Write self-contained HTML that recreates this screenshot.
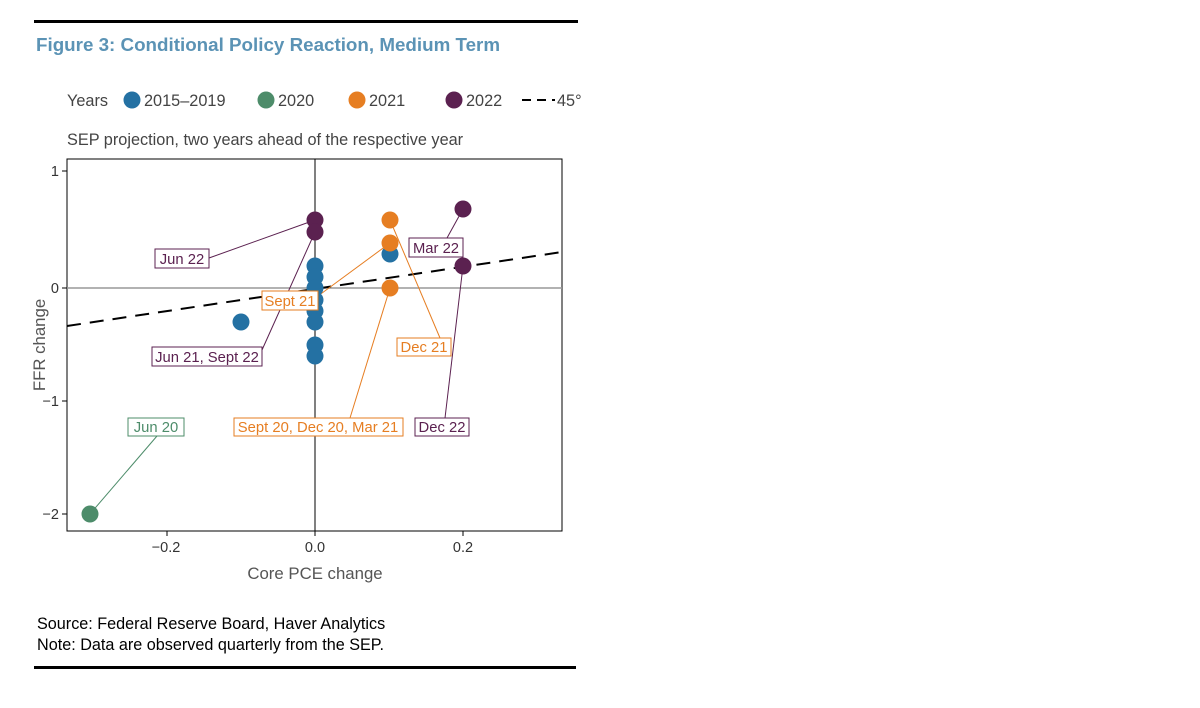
<!DOCTYPE html>
<html><head><meta charset="utf-8"><style>
body{margin:0;background:#fff;}
svg text{font-family:"Liberation Sans",Arial,sans-serif;}
</style></head><body>
<svg width="1200" height="703" xmlns="http://www.w3.org/2000/svg">
<rect x="34" y="20" width="544" height="3" fill="#000"/>
<rect x="34" y="666" width="542" height="3" fill="#000"/>
<text x="36" y="51" font-size="18.8" font-weight="bold" fill="#5b93b5">Figure 3: Conditional Policy Reaction, Medium Term</text>
<g font-size="16.3" fill="#444">
<text x="67" y="106">Years</text>
<circle cx="132" cy="100" r="8.5" fill="#2471a3"/><text x="144" y="106">2015–2019</text>
<circle cx="266" cy="100" r="8.5" fill="#4d8c6a"/><text x="278" y="106">2020</text>
<circle cx="357" cy="100" r="8.5" fill="#e67e22"/><text x="369" y="106">2021</text>
<circle cx="454" cy="100" r="8.5" fill="#5b2150"/><text x="466" y="106">2022</text>
<line x1="522" y1="100" x2="555" y2="100" stroke="#000" stroke-width="2" stroke-dasharray="9,6"/>
<text x="557" y="106">45°</text>
<text x="67" y="145">SEP projection, two years ahead of the respective year</text>
</g>
<rect x="67" y="159" width="495" height="372" fill="none" stroke="#000" stroke-width="1"/>
<line x1="67" y1="288" x2="562" y2="288" stroke="#999" stroke-width="1.5"/>
<line x1="315" y1="159" x2="315" y2="531" stroke="#000" stroke-width="1"/>
<line x1="67" y1="326" x2="562" y2="252" stroke="#000" stroke-width="2" stroke-dasharray="14,9"/>
<g font-size="14.5" fill="#333" text-anchor="end">
<line x1="62" y1="171" x2="67" y2="171" stroke="#000"/><text x="59" y="176">1</text>
<line x1="62" y1="288" x2="67" y2="288" stroke="#000"/><text x="59" y="293">0</text>
<line x1="62" y1="401" x2="67" y2="401" stroke="#000"/><text x="59" y="406">−1</text>
<line x1="62" y1="514" x2="67" y2="514" stroke="#000"/><text x="59" y="519">−2</text>
</g>
<g font-size="14.5" fill="#333" text-anchor="middle">
<line x1="167" y1="531" x2="167" y2="536" stroke="#000"/><text x="166" y="552">−0.2</text>
<line x1="315" y1="531" x2="315" y2="536" stroke="#000"/><text x="315" y="552">0.0</text>
<line x1="463" y1="531" x2="463" y2="536" stroke="#000"/><text x="463" y="552">0.2</text>
</g>
<text x="315" y="579" font-size="16.8" fill="#555" text-anchor="middle">Core PCE change</text>
<text transform="translate(45,345) rotate(-90)" font-size="16.8" fill="#555" text-anchor="middle">FFR change</text>
<g stroke-width="1" fill="none">
<line x1="209" y1="258" x2="315" y2="220" stroke="#5b2150"/>
<line x1="262" y1="350" x2="315" y2="232" stroke="#5b2150"/>
<line x1="447" y1="238" x2="463" y2="209" stroke="#5b2150"/>
<line x1="445" y1="418" x2="463" y2="266" stroke="#5b2150"/>
<line x1="318" y1="296" x2="390" y2="243" stroke="#e67e22"/>
<line x1="440" y1="338" x2="390" y2="220" stroke="#e67e22"/>
<line x1="350" y1="418" x2="390" y2="288" stroke="#e67e22"/>
<line x1="157" y1="436" x2="90" y2="514" stroke="#4d8c6a"/>
</g>
<g>
<circle cx="315" cy="266" r="8.5" fill="#2471a3"/><circle cx="315" cy="277" r="8.5" fill="#2471a3"/>
<circle cx="315" cy="288" r="8.5" fill="#2471a3"/><circle cx="315" cy="300" r="8.5" fill="#2471a3"/>
<circle cx="315" cy="311" r="8.5" fill="#2471a3"/><circle cx="315" cy="322" r="8.5" fill="#2471a3"/>
<circle cx="315" cy="345" r="8.5" fill="#2471a3"/><circle cx="315" cy="356" r="8.5" fill="#2471a3"/>
<circle cx="241" cy="322" r="8.5" fill="#2471a3"/><circle cx="390" cy="254" r="8.5" fill="#2471a3"/>
<circle cx="315" cy="220" r="8.5" fill="#5b2150"/><circle cx="315" cy="232" r="8.5" fill="#5b2150"/>
<circle cx="463" cy="209" r="8.5" fill="#5b2150"/><circle cx="463" cy="266" r="8.5" fill="#5b2150"/>
<circle cx="390" cy="220" r="8.5" fill="#e67e22"/><circle cx="390" cy="243" r="8.5" fill="#e67e22"/>
<circle cx="390" cy="288" r="8.5" fill="#e67e22"/>
<circle cx="90" cy="514" r="8.5" fill="#4d8c6a"/>
</g>
<g font-size="14.8" text-anchor="middle">
<rect x="155" y="249" width="54" height="19" fill="#fff" stroke="#5b2150"/><text x="182" y="264" fill="#5b2150">Jun 22</text>
<rect x="409" y="238" width="54" height="19" fill="#fff" stroke="#5b2150"/><text x="436" y="253" fill="#5b2150">Mar 22</text>
<rect x="262" y="291" width="56" height="19" fill="#fff" stroke="#e67e22"/><text x="290" y="306" fill="#e67e22">Sept 21</text>
<rect x="397" y="338" width="54" height="18" fill="#fff" stroke="#e67e22"/><text x="424" y="352" fill="#e67e22">Dec 21</text>
<rect x="152" y="347" width="110" height="19" fill="#fff" stroke="#5b2150"/><text x="207" y="362" fill="#5b2150">Jun 21, Sept 22</text>
<rect x="128" y="418" width="56" height="18" fill="#fff" stroke="#4d8c6a"/><text x="156" y="432" fill="#4d8c6a">Jun 20</text>
<rect x="234" y="418" width="169" height="18" fill="#fff" stroke="#e67e22"/><text x="318" y="432" fill="#e67e22">Sept 20, Dec 20, Mar 21</text>
<rect x="415" y="418" width="54" height="18" fill="#fff" stroke="#5b2150"/><text x="442" y="432" fill="#5b2150">Dec 22</text>
</g>
<g font-size="16.2" fill="#000">
<text x="37" y="629">Source: Federal Reserve Board, Haver Analytics</text>
<text x="37" y="650">Note: Data are observed quarterly from the SEP.</text>
</g>
</svg>
</body></html>
